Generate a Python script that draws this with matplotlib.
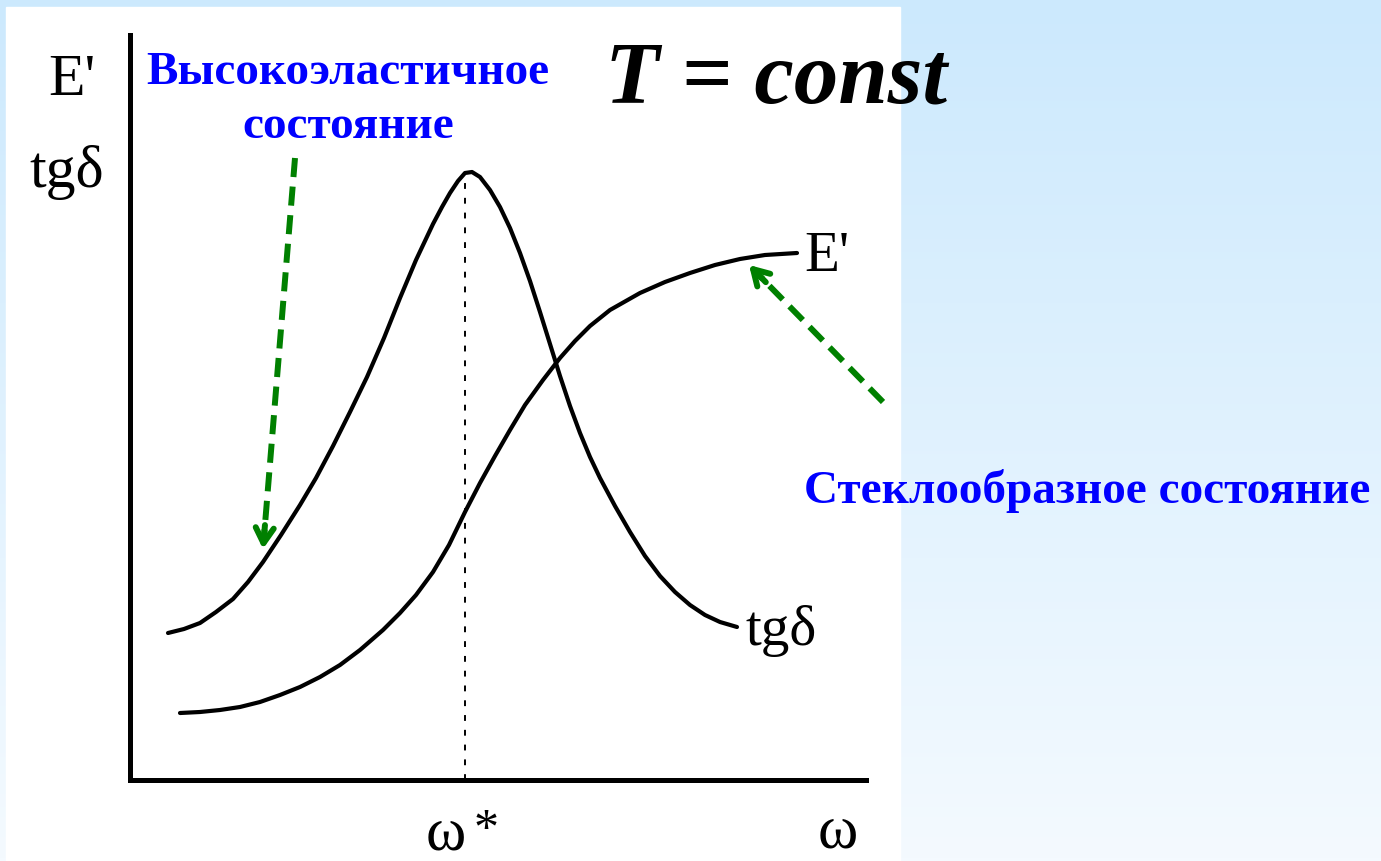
import numpy as np
import matplotlib
matplotlib.use("Agg")
import matplotlib.pyplot as plt
from matplotlib.colors import LinearSegmentedColormap
from matplotlib.patches import Rectangle

# ---- data (units: x = omega, y = response) ----
omega_tg = [38, 54, 70, 86, 103, 118, 133, 151, 170, 186, 203, 220, 237, 254, 270,
            286, 303, 312, 320, 328, 335, 342, 350, 360, 370, 380, 390, 400, 410,
            420, 430, 440, 450, 460, 470, 485, 500, 515, 530, 545, 560, 575, 590, 607]
tg_delta = [147, 151, 157, 168, 181, 198, 218, 245, 275, 302, 334, 368, 403, 442, 482,
            520, 556, 573, 587, 599, 607, 608, 603, 590, 573, 552, 527, 499, 468,
            436, 404, 374, 347, 323, 302, 274, 248, 224, 204, 188, 175, 165, 158, 153]

omega_E = [50, 70, 90, 110, 130, 150, 170, 190, 210, 230, 253, 270, 286, 303, 319,
           335, 350, 365, 380, 395, 413, 430, 445, 460, 480, 510, 535, 560, 585,
           610, 635, 667]
E_prime = [67, 68, 70, 73, 78, 85, 93, 103, 115, 130, 150, 167, 185, 208, 235,
           268, 297, 324, 350, 375, 400, 422, 439, 454, 470, 487, 498, 507, 515,
           521, 525, 527]

omega_star = 335
x_max, y_max = 736, 745

ylabel_lines = ["E'", "tgδ"]
curve_labels = ["E'", "tgδ"]
xtick_labels = ["ω*", "ω"]
title_text = "T = const"
note_high = ["Высокоэластичное", "состояние"]
note_glass = "Стеклообразное состояние"

W, H = 1381, 861
fig = plt.figure(figsize=(W / 100, H / 100), dpi=100)

# ---- background ----
bg = fig.add_axes([0, 0, 1, 1])
bg.set_xlim(0, W)
bg.set_ylim(H, 0)
bg.axis("off")
cmap = LinearSegmentedColormap.from_list("bg", ["#cce9fd", "#f4faff"])
bg.imshow(np.linspace(0, 1, 256)[:, None], extent=[0, W, H, 0], cmap=cmap,
          aspect="auto", zorder=0)
bg.add_patch(Rectangle((6, 7), 894, H - 7, color="white", zorder=1))

# ---- chart axes ----
ax = fig.add_axes([130 / W, (H - 780) / H, 736 / W, 745 / H])
ax.patch.set_alpha(0)
ax.set_xlim(0, x_max)
ax.set_ylim(0, y_max)
for s in ["top", "right"]:
    ax.spines[s].set_visible(False)
for s in ["left", "bottom"]:
    ax.spines[s].set_linewidth(3.6)
    ax.spines[s].set_capstyle("projecting")
ax.set_xticks([])
ax.set_yticks([])

ax.plot(omega_tg, tg_delta, color="black", lw=3.0, solid_capstyle="round",
        solid_joinstyle="round", clip_on=False)
ax.plot(omega_E, E_prime, color="black", lw=3.0, solid_capstyle="round",
        solid_joinstyle="round", clip_on=False)
ax.plot([omega_star, omega_star], [0, max(tg_delta) - 8], color="black",
        lw=1.4, linestyle=(0, (3.0, 4.6)))

# ---- overlay for text & arrows (pixel coordinates) ----
ov = fig.add_axes([0, 0, 1, 1])
ov.patch.set_alpha(0)
ov.set_xlim(0, W)
ov.set_ylim(H, 0)
ov.axis("off")

serif = "Liberation Serif"
ov.text(72, 95, ylabel_lines[0], fontsize=43, family=serif, ha="center", va="baseline")
ov.text(67, 187, ylabel_lines[1], fontsize=43, family=serif, ha="center", va="baseline")
ov.text(804, 271, curve_labels[0], fontsize=41, family=serif, ha="left", va="baseline")
ov.text(746, 645, curve_labels[1], fontsize=41, family=serif, ha="left", va="baseline")
ov.text(426, 849, xtick_labels[0][0], fontsize=44, family=serif, ha="left", va="baseline")
ov.text(474, 843, xtick_labels[0][1], fontsize=36, family=serif, ha="left", va="baseline")
ov.text(838, 848, xtick_labels[1], fontsize=44, family=serif, ha="center", va="baseline")

ov.text(776, 103, title_text, fontsize=64, family=serif, fontweight="bold",
        fontstyle="italic", ha="center", va="baseline")

ov.text(348, 84, note_high[0], fontsize=34, family=serif,
        fontweight="bold", color="#0000ff", ha="center", va="baseline")
ov.text(348, 138, note_high[1], fontsize=34, family=serif,
        fontweight="bold", color="#0000ff", ha="center", va="baseline")
ov.text(1087, 503, note_glass, fontsize=34, family=serif,
        fontweight="bold", color="#0000ff", ha="center", va="baseline")

green = "#008000"


def dashed_arrow(tail, tip):
    tail = np.array(tail, float)
    tip = np.array(tip, float)
    d = tail - tip
    d /= np.hypot(*d)
    end = tip + d * 14
    ov.plot([tail[0], end[0]], [tail[1], end[1]], color=green, lw=4.3,
            linestyle=(0, (3.2, 1.6)), solid_capstyle="butt")
    ov.annotate("", xy=tuple(tip), xytext=tuple(tip + d * 24),
                arrowprops=dict(arrowstyle="->,head_length=1.1,head_width=0.65",
                                color=green, lw=4.3, shrinkA=0, shrinkB=0))


dashed_arrow((295, 158), (263, 549))
dashed_arrow((883, 402), (749, 265))

fig.savefig("out.png", dpi=100)
